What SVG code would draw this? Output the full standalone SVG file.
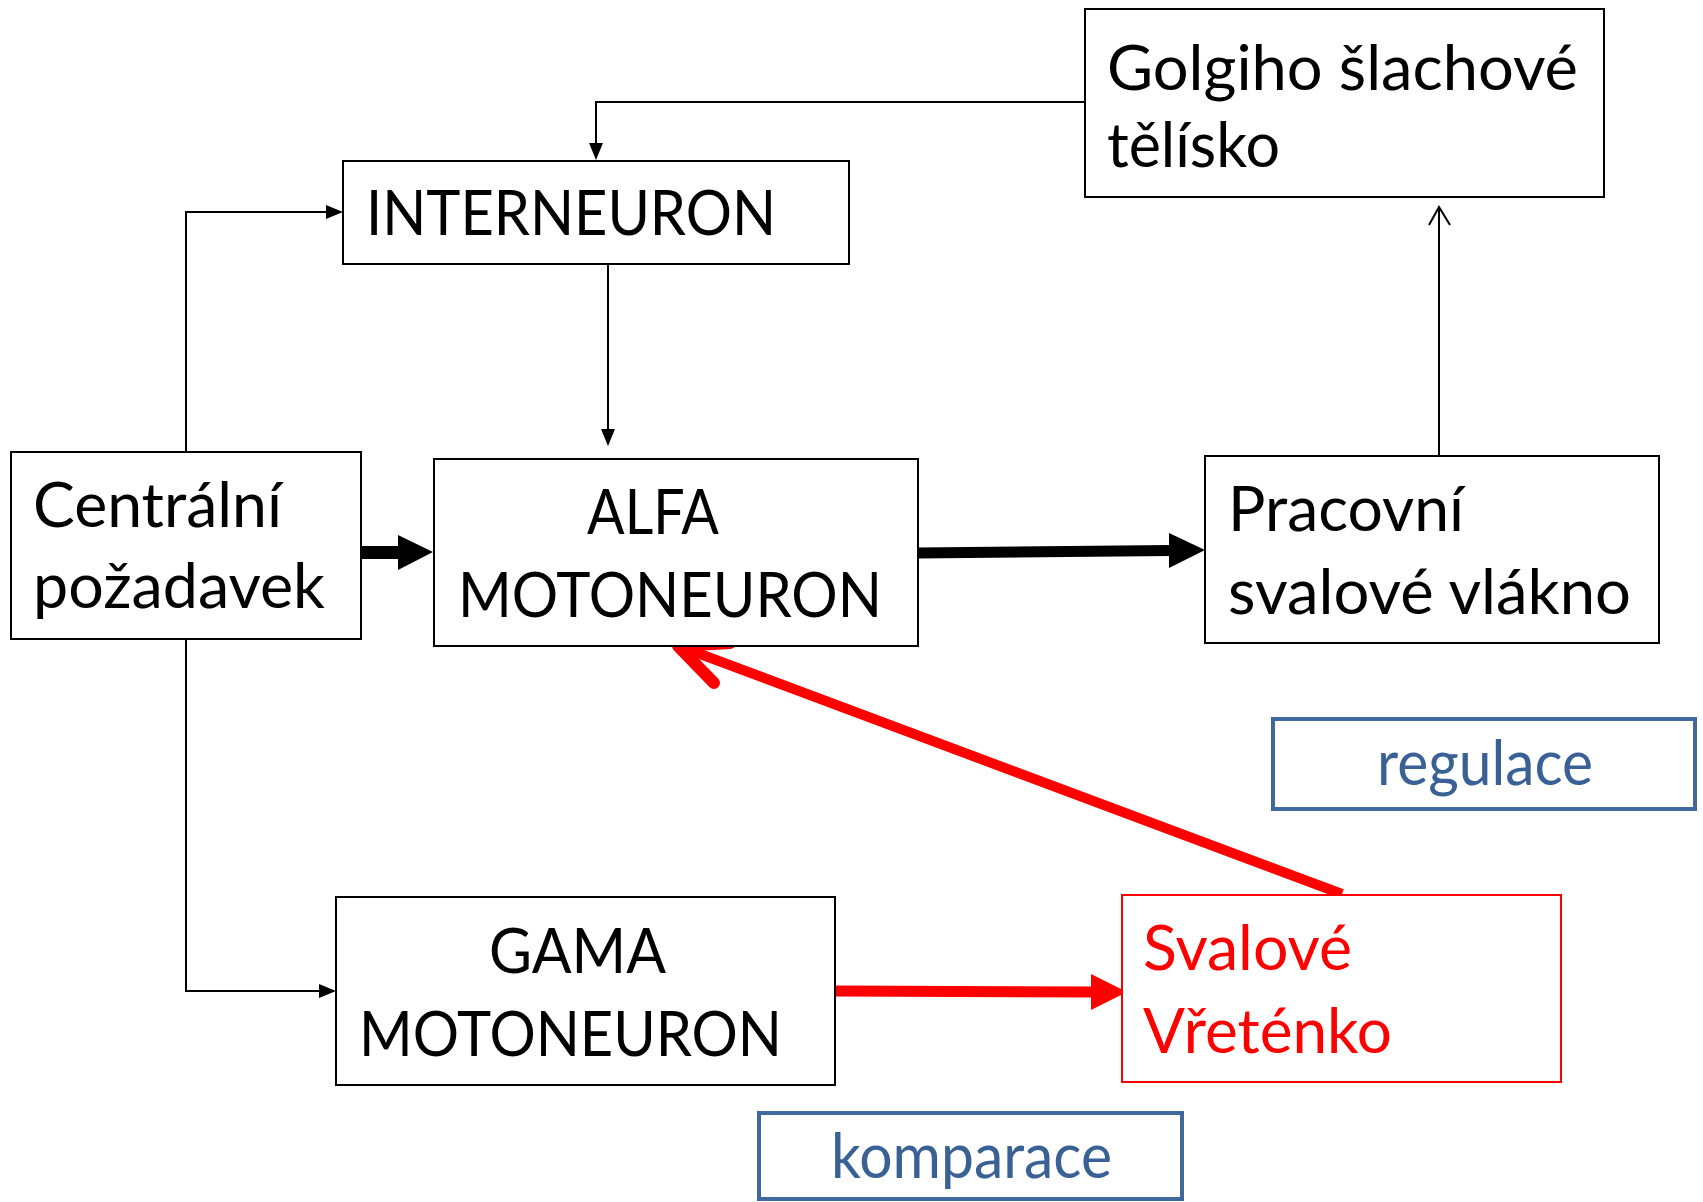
<svg xmlns="http://www.w3.org/2000/svg" width="1703" height="1202" viewBox="0 0 1703 1202">
<style>
  .box { fill: #ffffff; stroke: #000000; stroke-width: 2; }
  .rbox { fill: #ffffff; stroke: #ff0000; stroke-width: 2; }
  .bbox { fill: #ffffff; stroke: #41689a; stroke-width: 4; }
  .t { font-family: Lato, "Open Sans", "Liberation Sans", sans-serif; font-size: 61px; fill: #000000; }
  .tr { fill: #ff0000; }
  .tb { fill: #3a6195; }
  .thin { fill: none; stroke: #000000; stroke-width: 2; }
</style>
<defs>
  <marker id="tri" markerUnits="userSpaceOnUse" markerWidth="17" markerHeight="14" refX="15" refY="7" orient="auto">
    <path d="M0,0 L17,7 L0,14 z" fill="#000000"/>
  </marker>
</defs>
<rect width="1703" height="1202" fill="#ffffff"/>

<g id="connectors">
  <path class="thin" d="M1085,102 L596,102 L596,158" marker-end="url(#tri)"/>
  <path class="thin" d="M186,452 L186,212 L341,212" marker-end="url(#tri)"/>
  <path class="thin" d="M608,264 L608,444" marker-end="url(#tri)"/>
  <path class="thin" d="M186,639 L186,991 L334,991" marker-end="url(#tri)"/>
  <path class="thin" d="M1439,462 L1439,208"/>
  <polyline class="thin" points="1429,225 1439,207 1450,225"/>
  <!-- thick black arrows -->
  <rect x="358" y="546" width="41" height="13" fill="#000000"/>
  <polygon points="398,535 433,552 398,570" fill="#000000"/>
  <line x1="918" y1="553" x2="1171" y2="550.5" stroke="#000000" stroke-width="11"/>
  <polygon points="1169,533 1205,550 1169,568" fill="#000000"/>
  <!-- red arrows -->
  <line x1="835" y1="991" x2="1093" y2="992" stroke="#ff0000" stroke-width="11"/>
  <polygon points="1091,974 1127,992 1091,1010" fill="#ff0000"/>
  <line x1="1342" y1="894" x2="684" y2="648" stroke="#ff0000" stroke-width="10"/>
  <polyline points="730,643 678,646 714,683" fill="none" stroke="#ff0000" stroke-width="12" stroke-linecap="round" stroke-linejoin="round"/>
</g>

<g id="golgi">
  <rect class="box" x="1085" y="9" width="519" height="188"/>
  <text class="t" x="1107" y="90" textLength="471" lengthAdjust="spacingAndGlyphs">Golgiho šlachové</text>
  <text class="t" x="1107" y="167" textLength="173" lengthAdjust="spacingAndGlyphs">tělísko</text>
</g>

<g id="interneuron">
  <rect class="box" x="343" y="161" width="506" height="103"/>
  <text class="t" x="366" y="235" textLength="410" lengthAdjust="spacingAndGlyphs">INTERNEURON</text>
</g>

<g id="centralni">
  <rect class="box" x="11" y="452" width="350" height="187"/>
  <text class="t" x="33" y="527" textLength="249" lengthAdjust="spacingAndGlyphs">Centrální</text>
  <text class="t" x="33" y="608" textLength="292" lengthAdjust="spacingAndGlyphs">požadavek</text>
</g>

<g id="alfa">
  <rect class="box" x="434" y="459" width="484" height="187"/>
  <text class="t" x="587" y="534" textLength="132" lengthAdjust="spacingAndGlyphs">ALFA</text>
  <text class="t" x="458" y="617" textLength="424" lengthAdjust="spacingAndGlyphs">MOTONEURON</text>
</g>

<g id="pracovni">
  <rect class="box" x="1205" y="456" width="454" height="187"/>
  <text class="t" x="1228" y="531" textLength="236" lengthAdjust="spacingAndGlyphs">Pracovní</text>
  <text class="t" x="1228" y="614" textLength="403" lengthAdjust="spacingAndGlyphs">svalové vlákno</text>
</g>

<g id="regulace">
  <rect class="bbox" x="1273" y="719" width="422" height="90"/>
  <text class="t tb" x="1377" y="785" textLength="216" lengthAdjust="spacingAndGlyphs">regulace</text>
</g>

<g id="gama">
  <rect class="box" x="336" y="897" width="499" height="188"/>
  <text class="t" x="489" y="973" textLength="177" lengthAdjust="spacingAndGlyphs">GAMA</text>
  <text class="t" x="359" y="1056" textLength="423" lengthAdjust="spacingAndGlyphs">MOTONEURON</text>
</g>

<g id="vretenko">
  <rect class="rbox" x="1122" y="895" width="439" height="187"/>
  <text class="t tr" x="1143" y="970" textLength="209" lengthAdjust="spacingAndGlyphs">Svalové</text>
  <text class="t tr" x="1143" y="1053" textLength="249" lengthAdjust="spacingAndGlyphs">Vřeténko</text>
</g>

<g id="komparace">
  <rect class="bbox" x="759" y="1113" width="423" height="86"/>
  <text class="t tb" x="831" y="1178" textLength="281" lengthAdjust="spacingAndGlyphs">komparace</text>
</g>
</svg>
